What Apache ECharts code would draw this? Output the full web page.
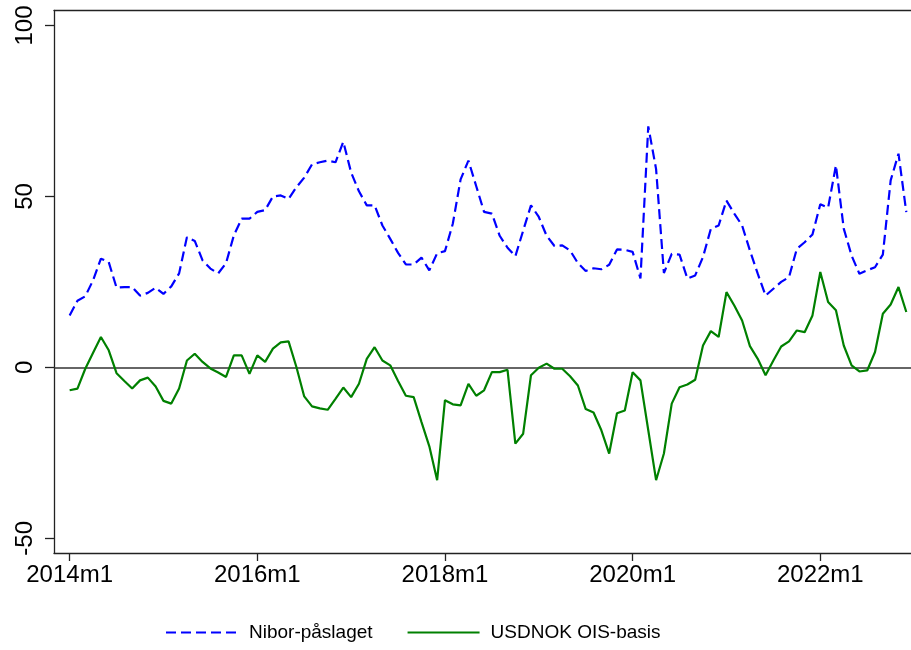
<!DOCTYPE html>
<html>
<head>
<meta charset="utf-8">
<script src="https://cdn.jsdelivr.net/npm/echarts@6/dist/echarts.min.js"></script>
<style>
html,body{margin:0;padding:0;background:#fff;}
#chart{width:911px;height:650px;}
</style>
</head>
<body>
<div id="chart"></div>
<script>
// Monthly categories 2014m1 .. 2022m12
var months = [];
for (var y = 2014; y <= 2022; y++) { for (var m = 1; m <= 12; m++) { months.push(y + 'm' + m); } }

var xTickLabels = ['2014m1', '2016m1', '2018m1', '2020m1', '2022m1'];
var yTickValues = [-50, 0, 50, 100];

var niborPaslaget = [
  15.2, 19.5, 20.8, 25.5, 31.8, 30.8, 23.3, 23.5, 23.5, 21.0, 21.8, 23.3,
  21.5, 23.7, 27.5, 38.1, 37.0, 31.3, 28.9, 27.5, 30.5, 38.6, 43.5, 43.5,
  45.5, 46.0, 50.0, 50.3, 49.3, 52.7, 55.5, 59.4, 60.0, 60.5, 60.0, 66.0,
  57.0, 51.5, 47.4, 47.4, 41.5, 37.6, 33.5, 30.1, 30.1, 32.1, 28.4, 33.4,
  34.0, 42.0, 55.0, 60.5, 53.0, 45.5, 45.0, 38.5, 35.0, 32.5, 40.0, 47.4,
  44.0, 38.5, 35.5, 35.7, 34.2, 30.5, 28.2, 29.0, 28.7, 30.0, 34.5, 34.4,
  33.8, 26.0, 70.5, 58.0, 27.6, 33.2, 33.0, 26.0, 26.9, 32.3, 40.5, 41.5,
  48.8, 45.0, 41.5, 34.2, 27.4, 21.0, 23.0, 25.0, 26.4, 34.7, 36.6, 38.9,
  47.7, 46.7, 59.1, 40.6, 32.7, 27.4, 28.4, 29.3, 33.0, 54.7, 62.5, 45.4
];

var usdnokOisBasis = [
  -6.7, -6.2, -0.4, 4.3, 8.9, 5.0, -1.7, -4.0, -6.2, -3.8, -3.0, -5.6,
  -9.8, -10.6, -6.2, 2.0, 4.0, 1.6, -0.3, -1.5, -2.8, 3.5, 3.5, -1.9,
  3.5, 1.6, 5.5, 7.3, 7.6, 0.1, -8.5, -11.4, -12.0, -12.4, -9.2, -5.9,
  -8.7, -4.8, 2.5, 5.9, 2.0, 0.6, -4.0, -8.3, -8.7, -16.0, -23.1, -33.0,
  -9.6, -10.8, -11.1, -4.8, -8.3, -6.7, -1.4, -1.4, -0.7, -22.3, -19.4, -2.3,
  -0.1, 1.1, -0.4, -0.4, -2.6, -5.3, -12.2, -13.2, -18.4, -25.2, -13.4, -12.6,
  -1.4, -3.8, -18.4, -33.0, -25.2, -10.6, -5.8, -5.0, -3.6, 6.4, 10.6, 8.9,
  22.0, 18.1, 13.7, 6.2, 2.5, -2.3, 2.0, 6.1, 7.6, 10.8, 10.3, 15.2,
  27.9, 19.1, 16.7, 6.4, 0.6, -1.2, -0.9, 4.5, 15.7, 18.4, 23.5, 16.2
];

var xTickValues = xTickLabels.map(function (l) { return months.indexOf(l); });

var FONT = '"Liberation Sans", Arial, Helvetica, sans-serif';
var chart = echarts.init(document.getElementById('chart'), null, { renderer: 'canvas' });

chart.setOption({
  animation: false,
  backgroundColor: '#ffffff',
  grid: { left: 54, right: 0, top: 10.5, height: 542.5, containLabel: false },
  legend: {
    left: 160, top: 618,
    itemWidth: 72, itemHeight: 14, itemGap: 34,
    itemStyle: { opacity: 0 },
    textStyle: { fontFamily: FONT, fontSize: 19, color: '#000', padding: [0, 0, 0, 6] },
    data: ['Nibor-påslaget', 'USDNOK OIS-basis']
  },
  xAxis: [{
    type: 'value',
    min: -2, max: 107.6,
    axisLine: { show: true, onZero: false, lineStyle: { color: '#222', width: 1.3 } },
    axisTick: { show: true, length: 8, lineStyle: { color: '#222', width: 1.3 }, customValues: xTickValues },
    axisLabel: {
      show: true, customValues: xTickValues, margin: 10,
      fontFamily: FONT, fontSize: 24, color: '#000',
      formatter: function (v) { return months[Math.round(v)]; }
    },
    splitLine: { show: false }
  }, {
    type: 'value', position: 'top',
    min: -2, max: 107.6,
    axisLine: { show: true, onZero: false, lineStyle: { color: '#222', width: 1.3 } },
    axisTick: { show: false }, axisLabel: { show: false }, splitLine: { show: false }
  }],
  yAxis: {
    type: 'value',
    min: -54.3, max: 104.4,
    axisLine: { show: true, onZero: false, lineStyle: { color: '#222', width: 1.3 } },
    axisTick: { show: true, length: 9, lineStyle: { color: '#222', width: 1.3 }, customValues: yTickValues },
    axisLabel: {
      show: true, customValues: yTickValues, rotate: 90, margin: 17,
      fontFamily: FONT, fontSize: 24, color: '#000'
    },
    splitLine: { show: false }
  },
  series: [{
    name: 'Nibor-påslaget',
    type: 'line',
    xAxisIndex: 0,
    symbol: 'none',
    data: niborPaslaget.map(function (v, i) { return [i, v]; }),
    lineStyle: { color: '#0000ff', width: 2.2, type: [10, 5] },
    itemStyle: { color: '#0000ff' },
    z: 3
  }, {
    name: 'USDNOK OIS-basis',
    type: 'line',
    xAxisIndex: 0,
    symbol: 'none',
    data: usdnokOisBasis.map(function (v, i) { return [i, v]; }),
    lineStyle: { color: '#008000', width: 2.2, type: 'solid' },
    itemStyle: { color: '#008000' },
    z: 3,
    markLine: {
      silent: true, symbol: ['none', 'none'],
      label: { show: false },
      lineStyle: { color: '#333', width: 1.5, type: 'solid' },
      data: [{ yAxis: 0 }],
      z: 2
    }
  }]
});
</script>
</body>
</html>
